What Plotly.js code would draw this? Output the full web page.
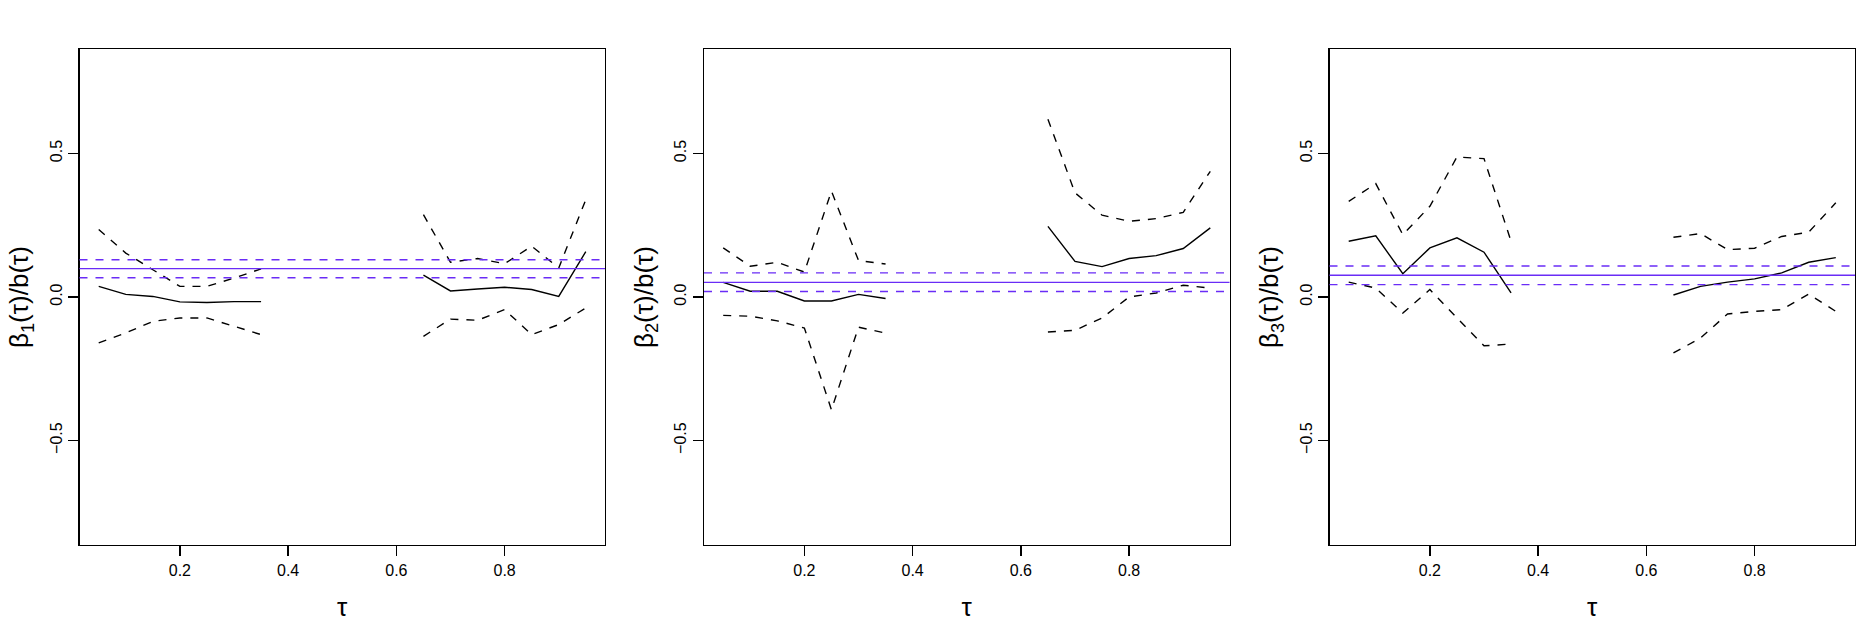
<!DOCTYPE html>
<html>
<head>
<meta charset="utf-8">
<script src="https://cdn.plot.ly/plotly-3.0.1.min.js"></script>
<style>html,body{margin:0;padding:0;background:#fff;}#chart{width:1875px;height:625px;}</style>
</head>
<body>
<div id="chart"></div>
<script>
// quantile levels (tau); left block 0.05-0.35, right block 0.65-0.95
const tau = [0.05, 0.10, 0.15, 0.20, 0.25, 0.30, 0.35, 0.65, 0.70, 0.75, 0.80, 0.85, 0.90, 0.95];

// Panel 1: beta1(tau)/b(tau)
const est1 = [0.037, 0.009, 0.002, -0.017, -0.019, -0.016, -0.016, 0.076, 0.021, 0.028, 0.034, 0.026, 0.002, 0.158];
const hi1  = [0.235, 0.153, 0.095, 0.037, 0.037, 0.066, 0.098, 0.287, 0.121, 0.134, 0.116, 0.177, 0.101, 0.339];
const lo1  = [-0.160, -0.125, -0.085, -0.073, -0.073, -0.102, -0.131, -0.137, -0.077, -0.081, -0.044, -0.131, -0.096, -0.038];
const ref1 = [0.099, 0.067, 0.130]; // estimate, lower, upper

// Panel 2: beta2(tau)/b(tau)
const est2 = [0.051, 0.020, 0.020, -0.014, -0.014, 0.009, -0.005, 0.246, 0.124, 0.106, 0.134, 0.144, 0.169, 0.241];
const hi2  = [0.171, 0.107, 0.121, 0.087, 0.369, 0.127, 0.115, 0.619, 0.363, 0.285, 0.264, 0.273, 0.295, 0.438];
const lo2  = [-0.064, -0.067, -0.083, -0.108, -0.393, -0.105, -0.126, -0.122, -0.116, -0.073, 0.000, 0.014, 0.041, 0.031];
const ref2 = [0.051, 0.019, 0.084];

// Panel 3: beta3(tau)/b(tau)
const est3 = [0.194, 0.213, 0.081, 0.171, 0.206, 0.156, 0.014, 0.007, 0.037, 0.052, 0.063, 0.084, 0.121, 0.137];
const hi3  = [0.333, 0.395, 0.217, 0.316, 0.488, 0.482, 0.194, 0.208, 0.221, 0.165, 0.170, 0.211, 0.226, 0.328];
const lo3  = [0.052, 0.031, -0.056, 0.026, -0.073, -0.170, -0.164, -0.195, -0.143, -0.059, -0.050, -0.044, 0.010, -0.050];
const ref3 = [0.076, 0.043, 0.108];

const yTitles = ["β<sub>1</sub>(τ)/b(τ)", "β<sub>2</sub>(τ)/b(τ)", "β<sub>3</sub>(τ)/b(τ)"];
const xTicks = [0.2, 0.4, 0.6, 0.8];
const yTicks = [-0.5, 0.0, 0.5];
const yTickText = ["−0.5", "0.0", "0.5"];

const panels = [[est1, lo1, hi1, ref1], [est2, lo2, hi2, ref2], [est3, lo3, hi3, ref3]];
const xDomains = [[79.5/1875, 605/1875], [704/1875, 1229.5/1875], [1329.5/1875, 1855/1875]];
const yDomain = [80/625, 576/625];
const blue = "#6a2cf6";
const FONT = "'Liberation Sans', Arial, Helvetica, sans-serif";

const traces = [];
const shapes = [];
const layout = {
  width: 1875, height: 625,
  margin: {l: 0, r: 0, t: 0, b: 0},
  paper_bgcolor: "#fff", plot_bgcolor: "#fff",
  showlegend: false,
  font: {family: FONT, color: "#000"}
};

const blocks = [[0, 7], [7, 14]];
panels.forEach((p, i) => {
  const n = i + 1;
  const xa = n === 1 ? "x" : "x" + n;
  const ya = n === 1 ? "y" : "y" + n;
  const [est, lo, hi, ref] = p;
  blocks.forEach(([a, b]) => {
    const xs = tau.slice(a, b);
    traces.push({x: xs, y: est.slice(a, b), xaxis: xa, yaxis: ya, mode: "lines", type: "scatter",
      line: {color: "#000", width: 1.4}, hoverinfo: "skip"});
    traces.push({x: xs, y: hi.slice(a, b), xaxis: xa, yaxis: ya, mode: "lines", type: "scatter",
      line: {color: "#000", width: 1.4, dash: "8px,8px"}, hoverinfo: "skip"});
    traces.push({x: xs, y: lo.slice(a, b), xaxis: xa, yaxis: ya, mode: "lines", type: "scatter",
      line: {color: "#000", width: 1.4, dash: "8px,8px"}, hoverinfo: "skip"});
  });
  ref.forEach((v, k) => {
    shapes.push({type: "line", xref: xa + " domain", yref: ya, x0: 0, x1: 1, y0: v, y1: v,
      line: {color: blue, width: 1.4, dash: k === 0 ? "solid" : "8px,8px"}});
  });
  const xKey = n === 1 ? "xaxis" : "xaxis" + n;
  const yKey = n === 1 ? "yaxis" : "yaxis" + n;
  layout[xKey] = {
    domain: xDomains[i], anchor: ya, range: [0.0145, 0.9855],
    tickvals: xTicks, ticktext: xTicks.map(v => v.toFixed(1)),
    ticks: "outside", ticklen: 10, tickwidth: 1.4, tickcolor: "#000",
    showline: true, mirror: true, linecolor: "#000", linewidth: 1.4,
    showgrid: false, zeroline: false,
    tickfont: {family: FONT, size: 16, color: "#000"},
    title: {text: "τ", font: {family: FONT, size: 26, color: "#000"}, standoff: 20}
  };
  layout[yKey] = {
    domain: yDomain, anchor: xa, range: [-0.864, 0.864],
    tickvals: yTicks, ticktext: yTickText, tickangle: -90,
    ticks: "outside", ticklen: 10, tickwidth: 1.4, tickcolor: "#000",
    showline: true, mirror: true, linecolor: "#000", linewidth: 1.4,
    showgrid: false, zeroline: false,
    tickfont: {family: FONT, size: 16, color: "#000"},
    title: {text: yTitles[i], font: {family: FONT, size: 26, color: "#000"}, standoff: 11}
  };
});
layout.shapes = shapes;

Plotly.newPlot("chart", traces, layout, {staticPlot: true, displayModeBar: false});
</script>
</body>
</html>
